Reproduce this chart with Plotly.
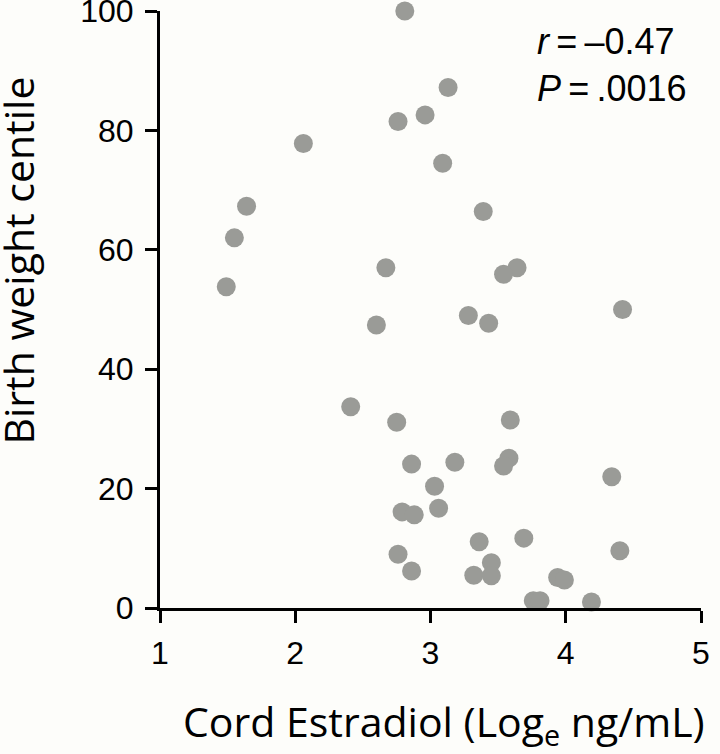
import plotly.graph_objects as go

# Cord estradiol (Log_e ng/mL) and birth weight centile
estradiol = [1.49, 1.55, 1.64, 2.06, 2.81, 3.13, 2.96, 2.76, 3.09, 3.39,
             2.67, 3.64, 3.54, 4.42, 2.60, 3.28, 3.43, 2.41, 2.75, 3.59,
             2.86, 3.18, 3.58, 3.54, 4.34, 3.03, 2.79, 2.88, 3.06, 3.36,
             3.69, 2.76, 4.40, 2.86, 3.45, 3.32, 3.45, 3.94, 3.99, 3.76,
             3.81, 4.19]
centile = [53.8, 62.0, 67.3, 77.8, 100.0, 87.2, 82.6, 81.5, 74.5, 66.4,
           57.0, 57.0, 55.9, 50.0, 47.4, 49.0, 47.7, 33.7, 31.1, 31.5,
           24.1, 24.4, 25.1, 23.8, 22.0, 20.4, 16.1, 15.6, 16.7, 11.1,
           11.7, 9.0, 9.6, 6.2, 7.6, 5.5, 5.4, 5.1, 4.7, 1.2,
           1.2, 1.0]

x_ticks = [1, 2, 3, 4, 5]
y_ticks = [0, 20, 40, 60, 80, 100]
stat_lines = ["<i>r</i>\u2009=\u2009–0.47", "<i>P</i>\u2009=\u2009.0016"]

bg = "#fdfdfa"
L, R, T, B = 160, 19, 11, 146
PW, PH = 720 - L - R, 754 - T - B

fig = go.Figure()
fig.add_trace(go.Scatter(
    x=estradiol, y=centile, mode="markers",
    marker=dict(size=19, color="#9a9b97", line=dict(width=0)),
    cliponaxis=False, showlegend=False, hoverinfo="skip"))

axis_common = dict(showgrid=False, zeroline=False, showline=True, automargin=False,
                   linecolor="black", linewidth=3, ticks="outside",
                   ticklen=12, tickwidth=3, tickcolor="black",
                   ticklabeloverflow="allow",
                   tickfont=dict(family="Liberation Sans, Arial", size=32, color="black"))

fig.update_layout(
    width=720, height=754,
    paper_bgcolor=bg, plot_bgcolor=bg,
    margin=dict(l=L, r=R, t=T, b=B),
    xaxis=dict(range=[1, 5], tickvals=x_ticks, ticklabelstandoff=3, **axis_common),
    yaxis=dict(range=[0, 100], tickvals=y_ticks, ticklabelstandoff=5, **axis_common),
)

fig.add_annotation(text="Cord Estradiol (Log<sub>e</sub> ng/mL)",
                   xref="paper", yref="paper", x=(444 - L) / PW, y=(608 - 723) / PH,
                   xanchor="center", yanchor="middle", showarrow=False,
                   font=dict(family="Open Sans", size=41, color="black"))
fig.add_annotation(text="Birth weight centile",
                   xref="paper", yref="paper", x=(17 - L) / PW, y=(608 - 260.5) / PH,
                   xanchor="center", yanchor="middle", textangle=-90, showarrow=False,
                   font=dict(family="Open Sans", size=41, color="black"))
fig.add_annotation(text="<br>".join(stat_lines),
                   xref="paper", yref="paper", x=(535 - L) / PW, y=(608 - 19) / PH,
                   xanchor="left", yanchor="top", align="left", showarrow=False,
                   font=dict(family="Liberation Sans, Arial", size=36, color="black"))

fig.write_html("out.html", config={"displayModeBar": False},
               post_script="document.body.style.margin='0';")
